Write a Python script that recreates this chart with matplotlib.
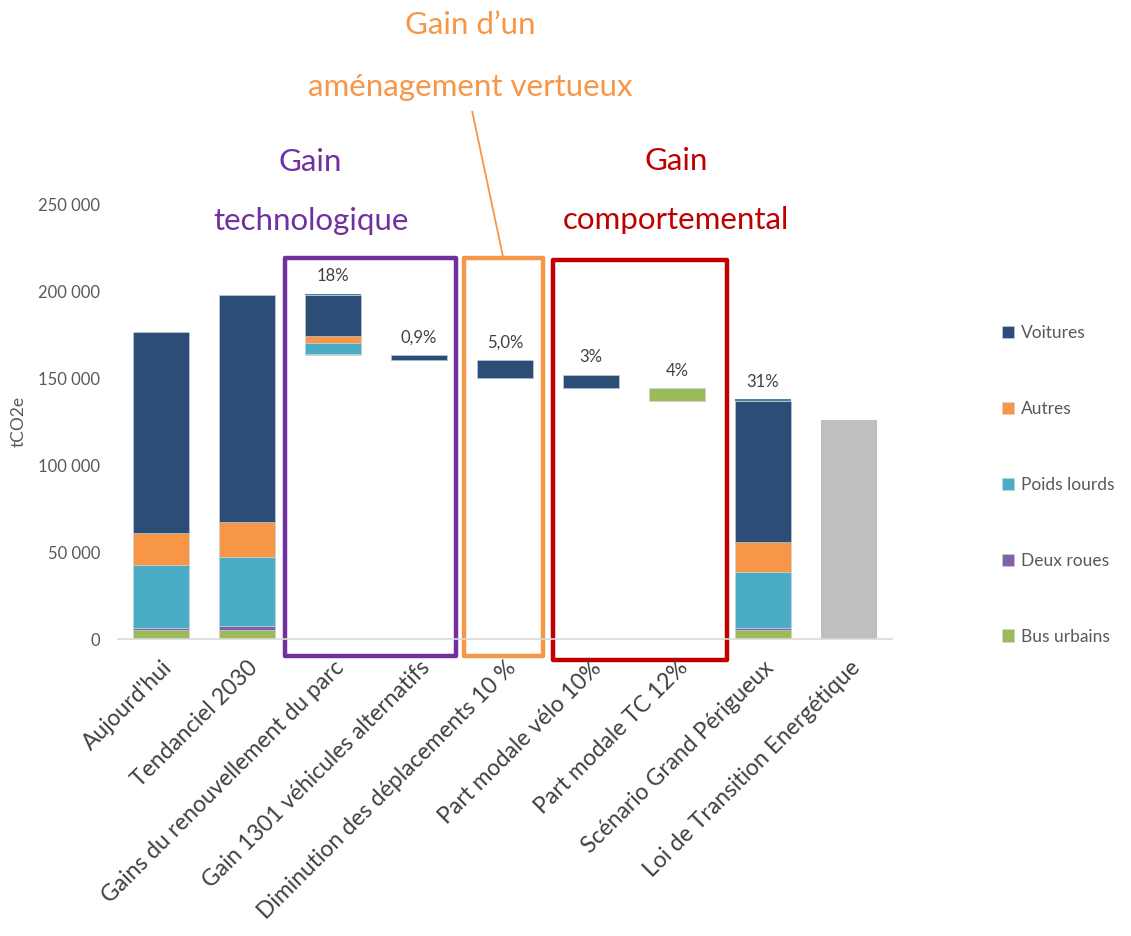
import matplotlib
matplotlib.use("Agg")
import matplotlib.pyplot as plt
from matplotlib.patches import Rectangle
import numpy as np

plt.rcParams['font.family'] = ['Lato', 'DejaVu Sans']

categories = ["Aujourd'hui", "Tendanciel 2030", "Gains du renouvellement du parc",
              "Gain 1301 véhicules alternatifs", "Diminution des déplacements 10 %",
              "Part modale vélo 10%", "Part modale TC 12%", "Scénario Grand Périgueux",
              "Loi de Transition Energétique"]

# invisible base of the floating (waterfall) bars
base = [0, 0, 163100, 160600, 150100, 144200, 136800, 0, 0]
bus_urbains = [5200, 5200, 900, 0, 0, 0, 7400, 5200, 0]
deux_roues = [1100, 2500, 0, 0, 0, 0, 0, 1300, 0]
poids_lourds = [36000, 39700, 6100, 0, 0, 0, 0, 32000, 0]
autres = [18600, 19700, 3900, 0, 0, 0, 0, 17400, 0]
voitures = [115700, 130700, 23600, 2600, 10000, 7300, 0, 80700, 0]
haut = [0, 0, 900, 0, 0, 500, 0, 1300, 0]
loi_te = [0, 0, 0, 0, 0, 0, 0, 0, 126000]
pct_labels = ["", "", "18%", "0,9%", "5,0%", "3%", "4%", "31%", ""]

series = [
    ("Bus urbains", bus_urbains, "#9BBB59"),
    ("Deux roues", deux_roues, "#8064A2"),
    ("Poids lourds", poids_lourds, "#4BACC6"),
    ("Autres", autres, "#F79646"),
    ("Voitures", voitures, "#2C4D75"),
    (None, haut, "#3E8A98"),
]

fig = plt.figure(figsize=(11.31, 9.36), dpi=100)
ax = fig.add_axes([0.1043, 0.3173, 0.6844, 0.4647])

x = np.arange(len(categories))
w = 0.65
bottom = np.array(base, dtype=float)
handles = {}
for name, vals, col in series:
    vals = np.array(vals, dtype=float)
    b = ax.bar(x, vals, w, bottom=bottom, color=col, edgecolor="#C9D3E0",
               linewidth=0.4 if name else 0)
    if name:
        handles[name] = b
    bottom = bottom + vals
ax.bar(x, loi_te, w, color="#BFBFBF")

for xi, top, lab in zip(x, bottom, pct_labels):
    if lab:
        ax.text(xi, top + 5500, lab, ha="center", va="bottom", fontsize=12, color="#404040")

ax.set_xlim(-0.5, len(categories) - 0.5)
ax.set_ylim(0, 250000)
ax.set_yticks(np.arange(0, 250001, 50000))
ax.set_yticklabels([f"{v:,}".replace(",", " ") for v in range(0, 250001, 50000)])
ax.tick_params(axis="y", length=0, labelsize=12, labelcolor="#595959", pad=13)
ax.tick_params(axis="x", length=0, pad=13)
ax.set_xticks(x)
ax.set_xticklabels(categories, rotation=45, ha="right", va="top", rotation_mode="anchor",
                   fontsize=16.5, color="#404040")
for s in ["top", "right", "left"]:
    ax.spines[s].set_visible(False)
ax.spines["bottom"].set_color("#D9D9D9")
ax.spines["bottom"].set_linewidth(1.2)
ax.set_ylabel("tCO2e", fontsize=12.5, color="#595959", labelpad=8)

# group boxes
boxes = [(1.44, 3.43, -9800, 219000, "#7030A0"),
         (3.52, 4.44, -9800, 219000, "#F79646"),
         (4.56, 6.58, -12000, 218000, "#C00000")]
for x0, x1, y0, y1, col in boxes:
    ax.add_patch(Rectangle((x0, y0), x1 - x0, y1 - y0, fill=False, edgecolor=col,
                           linewidth=3.2, clip_on=False, joinstyle="round"))

fs = 22.5
ax.text(1.74, 274000, "Gain", ha="center", va="center", fontsize=fs, color="#7030A0", clip_on=False)
ax.text(1.74, 240000, "technologique", ha="center", va="center", fontsize=fs, color="#7030A0", clip_on=False)
ax.text(3.60, 353000, "Gain d\u2019un", ha="center", va="center", fontsize=fs, color="#F79646", clip_on=False)
ax.text(3.60, 317000, "aménagement vertueux", ha="center", va="center", fontsize=fs, color="#F79646", clip_on=False)
ax.plot([3.62, 3.98], [303000, 219000], color="#F79646", linewidth=1.3, clip_on=False)
ax.text(5.99, 275000, "Gain", ha="center", va="center", fontsize=fs, color="#C00000", clip_on=False)
ax.text(5.99, 241000, "comportemental", ha="center", va="center", fontsize=fs, color="#C00000", clip_on=False)

order = ["Voitures", "Autres", "Poids lourds", "Deux roues", "Bus urbains"]
leg = fig.legend([handles[n] for n in order], order, loc="center left",
                 bbox_to_anchor=(0.872, 0.482), frameon=False, fontsize=12.5,
                 labelspacing=3.45, handlelength=0.7, handleheight=0.7, handletextpad=0.4)
for t in leg.get_texts():
    t.set_color("#595959")

fig.savefig("out.png", dpi=100)
